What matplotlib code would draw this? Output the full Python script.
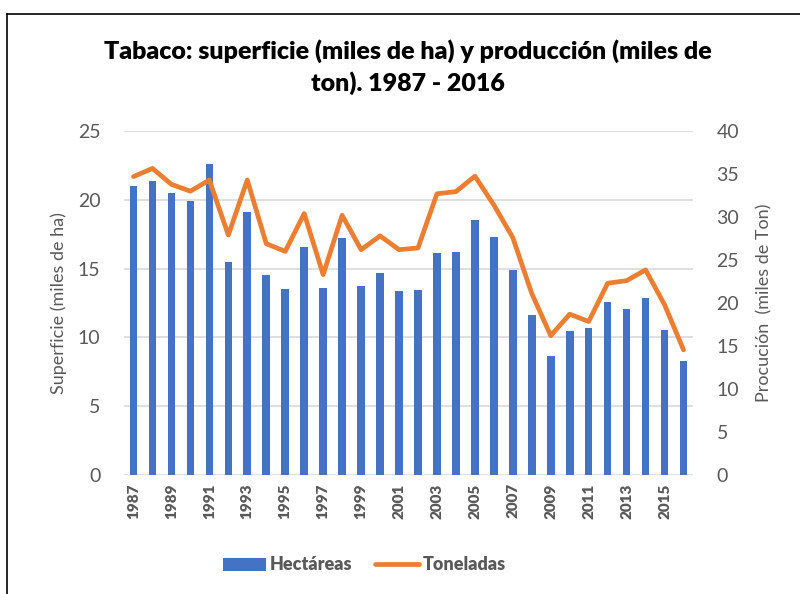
import matplotlib
matplotlib.use("Agg")
import matplotlib.pyplot as plt
from matplotlib.lines import Line2D

plt.rcParams["font.family"] = ["Lato", "DejaVu Sans"]

years = list(range(1987, 2017))
hectareas = [
    21.0, 21.4, 20.5, 19.9, 22.6, 15.5, 19.1, 14.55, 13.55, 16.55,
    13.6, 17.25, 13.7, 14.65, 13.35, 13.45, 16.1, 16.2, 18.55, 17.3,
    14.9, 11.6, 8.65, 10.5, 10.65, 12.55, 12.1, 12.85, 10.55, 8.3,
]
toneladas = [
    34.7, 35.65, 33.8, 33.0, 34.3, 27.9, 34.3, 26.9, 26.0, 30.4,
    23.3, 30.2, 26.2, 27.8, 26.2, 26.4, 32.7, 32.95, 34.75, 31.4,
    27.6, 21.1, 16.2, 18.7, 17.85, 22.3, 22.6, 23.85, 19.8, 14.55,
]
left_ticks = [0, 5, 10, 15, 20, 25]
right_ticks = [0, 5, 10, 15, 20, 25, 30, 35, 40]

W, H = 800, 594
gray = "#595959"
blue = "#4472C4"
orange = "#ED7D31"
grid = "#D9D9D9"

fig = plt.figure(figsize=(W / 100, H / 100), dpi=100)
ax = fig.add_axes([124 / W, (H - 475) / H, 569 / W, 344 / H])
ax2 = ax.twinx()

x = list(range(len(years)))
ax.bar(x, hectareas, width=0.4, color=blue, label="Hectáreas", zorder=2)
ax2.plot(x, toneladas, color=orange, lw=3.4, solid_capstyle="round",
         solid_joinstyle="round", label="Toneladas", zorder=3)

ax.set_xlim(-0.5, len(years) - 0.5)
ax.set_ylim(0, 25)
ax2.set_ylim(0, 40)
ax.set_yticks(left_ticks)
ax2.set_yticks(right_ticks)
ax.yaxis.grid(True, color=grid, lw=1.2, zorder=0)
ax.set_axisbelow(True)

ax.set_xticks(x[::2])
ax.set_xticklabels([str(y) for y in years[::2]], rotation=90,
                   fontsize=11, fontweight="heavy", color=gray)

for a in (ax, ax2):
    for s in a.spines.values():
        s.set_visible(False)
    a.tick_params(length=0)
ax.tick_params(axis="y", labelsize=14, labelcolor=gray, pad=17)
ax2.tick_params(axis="y", labelsize=14, labelcolor=gray, pad=17)
ax.tick_params(axis="x", pad=6)

ax.set_ylabel("Superficie (miles de ha)", fontsize=13, color=gray, labelpad=8)
ax2.set_ylabel("Procución  (miles de Ton)", fontsize=13, color=gray, labelpad=12)

fig.text(408 / W, 1 - 67 / H,
         "Tabaco: superficie (miles de ha) y producción (miles de\nton). 1987 - 2016",
         ha="center", va="center", fontsize=18, fontweight="heavy",
         color="black", linespacing=1.4)

h1, l1 = ax.get_legend_handles_labels()
h2, l2 = ax2.get_legend_handles_labels()
fig.legend(h1 + h2, l1 + l2, loc="center", bbox_to_anchor=(364 / W, 1 - 565 / H),
           ncol=2, frameon=False, handlelength=2.4, handletextpad=0.2,
           columnspacing=1.3, prop={"size": 13, "weight": "heavy"},
           labelcolor=gray)

# chart border
fig.add_artist(Line2D([7 / W, 7 / W], [0, 1 - 13.5 / H], color="black",
                      lw=1.2, transform=fig.transFigure))
fig.add_artist(Line2D([7 / W, 1], [1 - 13.5 / H, 1 - 13.5 / H], color="black",
                      lw=1.2, transform=fig.transFigure))

fig.savefig("out.png", dpi=100)
